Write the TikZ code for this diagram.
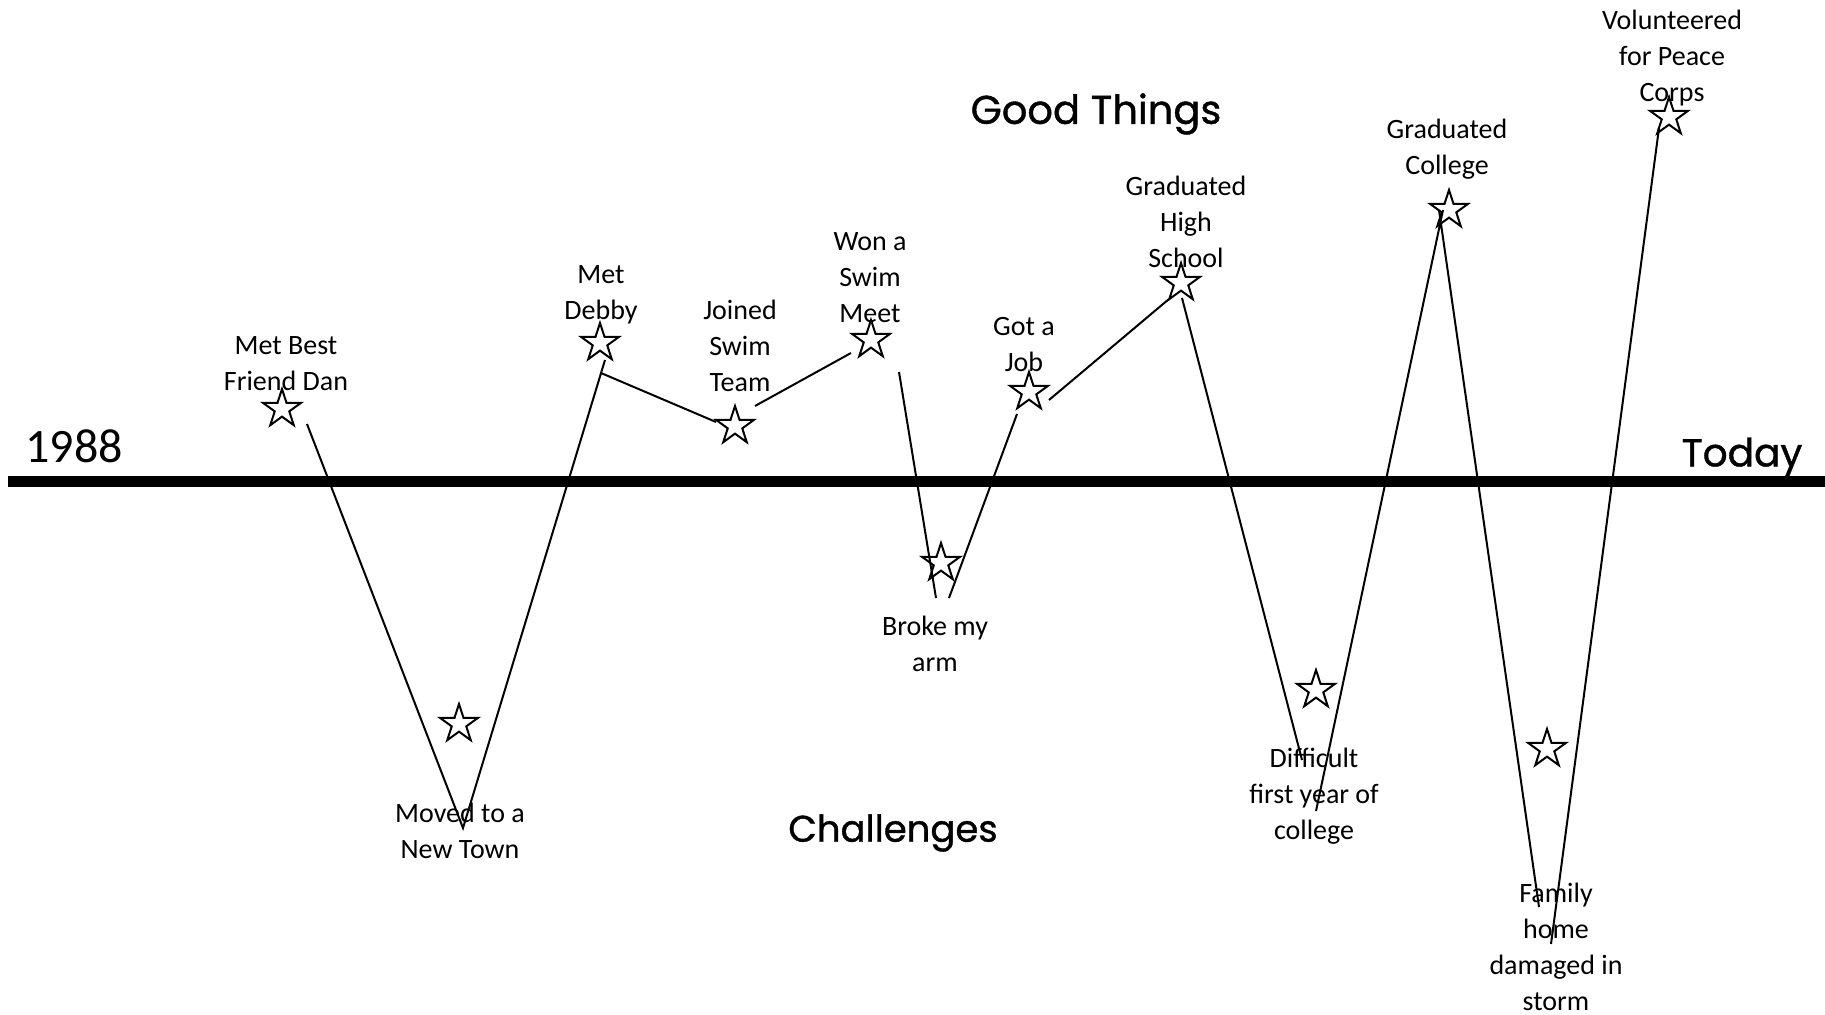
\documentclass[tikz,border=0pt]{standalone}
\usepackage{fontspec}
\setmainfont{Carlito}
\newfontfamily\handfont[FakeBold=1]{Poppins}
\usetikzlibrary{shapes.geometric}
\tikzset{event star/.style={star, star points=5, star point ratio=2.618, draw, line width=1pt, minimum size=20pt, inner sep=0pt},
	event label/.style={align=center, inner sep=0pt, font=\fontsize{14}{18}\selectfont},
	heading/.style={inner sep=0pt, font=\handfont\fontsize{20}{24}\selectfont},}

\begin{document}
\begin{tikzpicture}[x=0.5pt, y=-0.5pt, line width=1pt]
				\useasboundingbox (0,0) rectangle (1825,1015);
				% Axis
				\coordinate (start) at (8,482);
				\coordinate (end) at (1825,482);
				\draw[line width=5.5pt] (start) -- (end);
				\node[inner sep=0pt, font=\fontsize{24}{28}\selectfont] (past) at (74,446) {1988};
				\node[heading, font=\handfont\fontsize{19.5}{24}\selectfont] (now) at (1742,457) {Today};
				\node[heading] (good) at (1096,114) {Good Things};
				\node[heading, font=\handfont\fontsize{18.5}{24}\selectfont] (bad) at (893,833) {Challenges};
				% Stars
				\node[event star] (1) at (282,409) {};
				\node[event star] (2) at (459,724) {};
				\node[event star] (3) at (600,343) {};
				\node[event star] (4) at (735,426) {};
				\node[event star] (5) at (871,340) {};
				\node[event star] (6) at (941,563) {};
				\node[event star] (7) at (1029,392) {};
				\node[event star] (8) at (1181,283) {};
				\node[event star] (9) at (1316,690) {};
				\node[event star] (10) at (1449,210) {};
				\node[event star] (11) at (1547,749) {};
				\node[event star] (12) at (1669,117) {};
				% Labels
				\node[event label] (t1) at (286,364) {Met Best\\Friend Dan};
				\node[event label] (t2) at (460,831) {Moved to a\\New Town};
				\node[event label] (t3) at (601,295) {Met\\Debby};
				\node[event label] (t4) at (740,346) {Joined\\Swim\\Team};
				\node[event label] (t5) at (870,278) {Won a\\Swim\\Meet};
				\node[event label] (t6) at (935,644) {Broke my\\arm};
				\node[event label] (t7) at (1024,345) {Got a\\Job};
				\node[event label] (t8) at (1186,222) {Graduated\\High\\School};
				\node[event label] (t9) at (1314,796) {Difficult\\first year of\\college};
				\node[event label] (t10) at (1447,149) {Graduated\\College};
				\node[event label] (t11) at (1556,947) {Family\\home\\damaged in\\storm};
				\node[event label] (t12) at (1672,58) {Volunteered\\for Peace\\Corps};
				% Paths
				\coordinate (a1) at (307,424);
				\coordinate (a2) at (463,828);
				\coordinate (a3) at (605,360);
				\coordinate (b1) at (601,373);
				\coordinate (b2) at (716,422);
				\coordinate (c1) at (755,406);
				\coordinate (c2) at (851,353);
				\coordinate (d1) at (899,372);
				\coordinate (d2) at (936,598);
				\coordinate (e1) at (949,598);
				\coordinate (e2) at (1017,414);
				\coordinate (f1) at (1049,400);
				\coordinate (f2) at (1169,299);
				\coordinate (g1) at (1182,298);
				\coordinate (g2) at (1302,760);
				\coordinate (h1) at (1316,811);
				\coordinate (h2) at (1443,210);
				\coordinate (i1) at (1439,210);
				\coordinate (i2) at (1539,907);
				\coordinate (j1) at (1551,944);
				\coordinate (j2) at (1659,128);
				\path[draw]
				(a1) -- (a2) -- (a3)
				(b1) -- (b2)
				(c1) -- (c2)
				(d1) -- (d2)
				(e1) -- (e2)
				(f1) -- (f2)
				(g1) -- (g2)
				(h1) -- (h2)
				(i1) -- (i2)
				(j1) -- (j2);
			\end{tikzpicture}
\end{document}
